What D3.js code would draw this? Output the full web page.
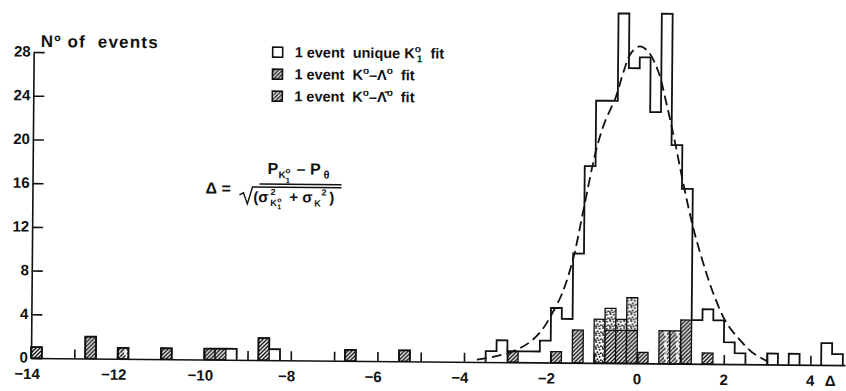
<!DOCTYPE html>
<html>
<head>
<meta charset="utf-8">
<script src="https://cdn.jsdelivr.net/npm/d3@7"></script>
<style>
  body { margin: 0; background: #fff; }
  svg { display: block; }
  text { font-family: "Liberation Sans", Arial, sans-serif; font-weight: bold; fill: #111; white-space: pre; }
</style>
</head>
<body>
<script>
// ---- data ----
const binWidth = 0.25;
// lower edge (in Delta) of every non-empty bin
const binLow = [-14, -12.75, -12, -11, -10, -9.75, -9.5, -8.75, -8.5, -6.75, -5.5,
                -3.5, -3.25, -3, -2.75, -2.5, -2.25, -2, -1.75, -1.5, -1.25,
                -1, -0.75, -0.5, -0.25, 0, 0.25, 0.5, 0.75, 1, 1.25,
                1.5, 1.75, 2, 2.25, 3, 3.5, 4.25, 4.5];
// all events in the bin (open outline)
const allEvents = [1, 2, 1, 1, 1, 1, 1, 2, 1, 1, 1,
                   1, 2, 1, 1, 1, 2, 5, 4, 10, 18,
                   24, 24, 32, 27, 28, 23, 32, 20, 16, 4,
                   5, 4, 2, 1, 1, 1, 2, 1];
// K0 - Lambda0 ambiguous fits (hatched)
const lambdaFit = [1, 2, 0, 1, 1, 1, 0, 2, 0, 1, 1,
                   0, 0, 1, 0, 0, 0, 1, 0, 3, 0,
                   0, 3, 3, 3, 1, 0, 0, 0, 4, 0,
                   1, 0, 0, 0, 0, 0, 0, 0];
// K0 - anti-Lambda0 ambiguous fits
const antiLambdaFit = [0, 0, 1, 0, 0, 0, 0, 0, 0, 0, 0,
                       0, 0, 0, 0, 0, 0, 0, 0, 0, 0,
                       0, 0, 0, 0, 0, 0, 3, 3, 0, 0,
                       0, 0, 0, 0, 0, 0, 0, 0];
// stippled block in the centre
const stippled = [0, 0, 0, 0, 0, 0, 0, 0, 0, 0, 0,
                  0, 0, 0, 0, 0, 0, 0, 0, 0, 0,
                  4, 2, 1, 3, 0, 0, 0, 0, 0, 0,
                  0, 0, 0, 0, 0, 0, 0, 0];

// dashed fitted curve
const fitDelta = [-3.7, -3.3, -2.9, -2.5, -2.2, -2.0, -1.75, -1.5, -1.27, -1.0, -0.8, -0.55, -0.37, -0.2, 0,
                  0.2, 0.44, 0.6, 0.8, 1.04, 1.27, 1.5, 1.75, 2.05, 2.35, 2.65, 3.0];
const fitCount = [0.2, 0.5, 0.95, 1.8, 3.0, 4.3, 6.3, 9.5, 14, 19.3, 22, 24.3, 26.7, 28.4, 29,
                  28.5, 26.6, 24.2, 20.8, 16.3, 12.4, 9.3, 6.4, 3.8, 2.3, 1.1, 0.3];

const yTicks = [0, 4, 8, 12, 16, 20, 24, 28];
const xLabels = [-14, -12, -10, -8, -6, -4, -2, 0, 2, 4];

// ---- chart ----
const W = 846, H = 391;
const svg = d3.select('body').append('svg').attr('width', W).attr('height', H);

const x = d3.scaleLinear().domain([-14, 4.8]).range([31, 845]);
const y = d3.scaleLinear().domain([0, 28]).range([358, 52]);

// patterns
const defs = svg.append('defs');
const hatch = defs.append('pattern').attr('id', 'hatch')
    .attr('patternUnits', 'userSpaceOnUse').attr('width', 4).attr('height', 4);
hatch.append('rect').attr('width', 4).attr('height', 4).attr('fill', '#fff');
hatch.append('path').attr('d', 'M-1,1 l2,-2 M0,4 l4,-4 M3,5 l2,-2')
    .attr('stroke', '#111').attr('stroke-width', 1.5);

const dots = defs.append('pattern').attr('id', 'dots')
    .attr('patternUnits', 'userSpaceOnUse').attr('width', 7).attr('height', 7);
dots.append('rect').attr('width', 7).attr('height', 7).attr('fill', '#fff');
[[1, 1], [4.5, 1.8], [2.3, 4.2], [5.8, 5.2], [0.6, 6.2], [3.6, 6.6]].forEach(p =>
    dots.append('circle').attr('cx', p[0]).attr('cy', p[1]).attr('r', 1).attr('fill', '#111'));

const squig = defs.append('pattern').attr('id', 'squig')
    .attr('patternUnits', 'userSpaceOnUse').attr('width', 12).attr('height', 12);
squig.append('rect').attr('width', 12).attr('height', 12).attr('fill', '#fff');
squig.append('path')
    .attr('d', 'M-1,1 l2,-2 M0,4 l4,-4 M0,8 l8,-8 M0,12 l12,-12 M4,12 l8,-8 M8,12 l4,-4 M11,13 l2,-2')
    .attr('stroke', '#111').attr('stroke-width', 1.5);
squig.append('path').attr('d', 'M7,2 q-3,0 -2,3 q3,1 1,4 q-1,2 -3,1')
    .attr('fill', 'none').attr('stroke', '#fff').attr('stroke-width', 1.8);

// the scan is slightly rotated
const g = svg.append('g').attr('transform', 'rotate(0.5, 31, 358)');

const bins = binLow.map((lo, i) => ({
    lo, total: allEvents[i], lam: lambdaFit[i], anti: antiLambdaFit[i], dot: stippled[i]
}));

// filled sub-samples, stacked from the base
const bw = x(binWidth) - x(0);
const layers = [
    { key: 'lam', fill: 'url(#hatch)', base: b => 0 },
    { key: 'anti', fill: 'url(#squig)', base: b => b.lam },
    { key: 'dot', fill: 'url(#dots)', base: b => b.lam + b.anti }
];
layers.forEach(l => {
    g.append('g').selectAll('rect')
        .data(bins.filter(b => b[l.key] > 0))
        .enter().append('rect')
            .attr('x', b => x(b.lo))
            .attr('y', b => y(l.base(b) + b[l.key]))
            .attr('width', bw)
            .attr('height', b => y(l.base(b)) - y(l.base(b) + b[l.key]))
            .attr('fill', l.fill)
            .attr('stroke', '#111')
            .attr('stroke-width', 1.3);
});

// open outline of all events, one step line per run of adjacent bins
const runs = [];
bins.forEach(b => {
    const last = runs[runs.length - 1];
    if (last && Math.abs(last[last.length - 1].lo + binWidth - b.lo) < 1e-6) last.push(b);
    else runs.push([b]);
});
g.append('g').selectAll('path')
    .data(runs)
    .enter().append('path')
        .attr('d', r => {
            let d = 'M' + x(r[0].lo) + ',' + y(0);
            r.forEach(b => { d += 'V' + y(b.total) + 'H' + x(b.lo + binWidth); });
            return d + 'V' + y(0);
        })
        .attr('fill', 'none')
        .attr('stroke', '#111')
        .attr('stroke-width', 1.8);

// dashed fit
const line = d3.line().x(d => x(d[0])).y(d => y(d[1])).curve(d3.curveCatmullRom);
g.append('path')
    .attr('d', line(fitDelta.map((d, i) => [d, fitCount[i]])))
    .attr('fill', 'none')
    .attr('stroke', '#111')
    .attr('stroke-width', 1.8)
    .attr('stroke-dasharray', '10,5');

// x axis: ticks pointing up, labels drawn separately
const xAxis = d3.axisBottom(x)
    .tickValues(d3.range(-13, 5))
    .tickSize(-9)
    .tickSizeOuter(0)
    .tickFormat('');
g.append('g')
    .attr('transform', 'translate(0,' + y(0) + ')')
    .call(xAxis)
    .call(a => a.selectAll('path, line').attr('stroke', '#111').attr('stroke-width', 1.6));

g.append('g').selectAll('text')
    .data(xLabels)
    .enter().append('text')
        .attr('x', v => v < 0 ? x(v) + String(Math.abs(v)).length * 4.5 : x(v))
        .attr('y', y(0) + 21)
        .attr('text-anchor', v => v < 0 ? 'end' : 'middle')
        .attr('font-size', 15)
        .text(v => v < 0 ? '\u2212' + Math.abs(v) : v);
g.append('text').attr('x', x(4) + 20).attr('y', y(0) + 21).attr('text-anchor', 'middle')
    .attr('font-size', 15).text('\u0394');

// y axis: ticks pointing inwards
const yAxis = d3.axisLeft(y)
    .tickValues(yTicks)
    .tickSize(-11)
    .tickSizeOuter(0)
    .tickPadding(3);
g.append('g')
    .attr('transform', 'translate(' + x(-14) + ',0)')
    .call(yAxis)
    .call(a => a.selectAll('path, line').attr('stroke', '#111').attr('stroke-width', 1.6))
    .call(a => a.selectAll('text')
        .attr('dy', '0.28em')
        .attr('font-family', '"Liberation Sans", Arial, sans-serif')
        .attr('font-weight', 'bold')
        .attr('font-size', 15)
        .attr('fill', '#111'));

g.append('text')
    .attr('x', 38).attr('y', 47)
    .attr('font-size', 17)
    .attr('letter-spacing', 1.2)
    .text('N\u00BA of  events');

// legend
const legendRows = [
    { fill: '#fff', parts: [['1 event  unique K'], ['o', 'sup'], ['1', 'sub'], ['  fit']] },
    { fill: 'url(#hatch)', parts: [['1 event  K'], ['o', 'sup'], ['\u2013\u039B'], ['o', 'sup'], ['  fit']] },
    { fill: 'url(#squig)', parts: [['1 event  K'], ['o', 'sup'], ['\u2013\u039B\u0304'], ['o', 'sup'], ['  fit']] }
];
const lg = g.append('g');
legendRows.forEach((row, i) => {
    const yy = 45 + i * 22;
    lg.append('rect').attr('x', 270).attr('y', yy).attr('width', 10).attr('height', 10)
        .attr('fill', row.fill).attr('stroke', '#111').attr('stroke-width', 1.6);
    const t = lg.append('text').attr('x', 292).attr('y', yy + 10).attr('font-size', 14.5);
    let shift = 0;
    row.parts.forEach(p => {
        const target = p[1] === 'sup' ? -6 : p[1] === 'sub' ? 4 : 0;
        const s = t.append('tspan').attr('dy', target - shift).text(p[0]);
        if (p[1]) s.attr('font-size', 10);
        if (p[1] === 'sub') s.attr('dx', -4);
        shift = target;
    });
});

// formula, pieces placed one by one
const f = g.append('g');
const put = (tx, px, py, size) => f.append('text').attr('x', px).attr('y', py).attr('font-size', size).text(tx);
put('\u0394 =', 204, 192, 16);
// numerator
put('P', 266, 172, 16);
put('K', 277, 176, 10);
put('o', 284, 171, 8);
put('1', 284, 181, 8);
put('\u2013 P', 295, 172, 16);
put('\u03B8', 322, 176, 11);
f.append('line').attr('x1', 258).attr('x2', 340).attr('y1', 182).attr('y2', 182)
    .attr('stroke', '#111').attr('stroke-width', 1.5);
// denominator under a root sign
f.append('path').attr('d', 'M238,193 L242,191 L246,202 L251,185 H340')
    .attr('fill', 'none').attr('stroke', '#111').attr('stroke-width', 1.4);
put('(\u03C3', 252, 200, 15);
put('2', 269, 193, 9);
put('K', 269, 204, 9);
put('o', 276, 200, 7);
put('1', 276, 207, 7);
put('+ \u03C3', 288, 200, 15);
put('K', 313, 204, 9);
put('2', 320, 193, 9);
put(')', 328, 200, 15);
</script>
</body>
</html>
